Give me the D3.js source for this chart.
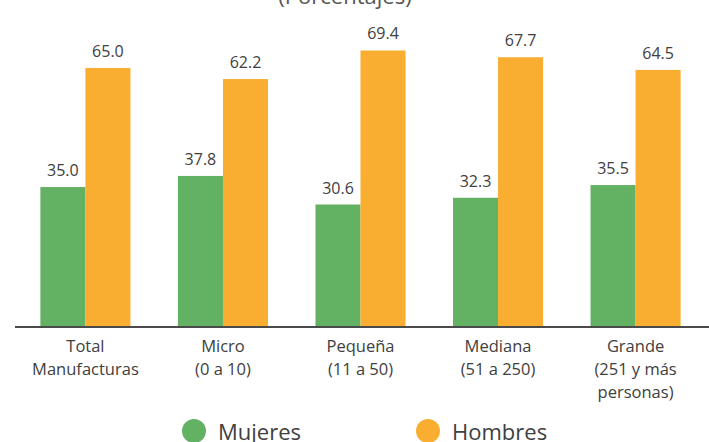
<!DOCTYPE html>
<html lang="es">
<head>
  <meta charset="UTF-8">
  <title>Mujeres y hombres por tamaño de empresa</title>
  <script src="https://d3js.org/d3.v7.min.js"></script>
  <style>
    body { margin: 0; background: #fff; }
    svg { display: block; font-family: "Open Sans", sans-serif; }
  </style>
</head>
<body>
  <svg id="chart" width="709" height="442"></svg>
  <script>
    // datos
    const categories = [
      ["Total", "Manufacturas"],
      ["Micro", "(0 a 10)"],
      ["Pequeña", "(11 a 50)"],
      ["Mediana", "(51 a 250)"],
      ["Grande", "(251 y más", "personas)"]
    ];
    const mujeres = [35.0, 37.8, 30.6, 32.3, 35.5];
    const hombres = [65.0, 62.2, 69.4, 67.7, 64.5];
    const seriesNames = ["Mujeres", "Hombres"];
    const colors = ["#63b163", "#f9ae31"];

    const svg = d3.select("#chart");
    const baseY = 326;

    const x0 = d3.scaleBand()
      .domain(d3.range(categories.length))
      .range([17, 704])
      .paddingInner(0.345)
      .paddingOuter(0.17);
    const x1 = d3.scaleBand()
      .domain([0, 1])
      .range([0, x0.bandwidth()]);
    const y = d3.scaleLinear().domain([0, 80]).range([baseY, baseY - 80 * 3.97]);

    // título (recortado arriba)
    svg.append("text")
      .attr("x", 345).attr("y", 4)
      .attr("text-anchor", "middle")
      .attr("fill", "#555")
      .style("font-size", "22px")
      .text("(Porcentajes)");

    const data = categories.map((c, i) => [mujeres[i], hombres[i]]);

    const groups = svg.append("g").selectAll("g")
      .data(data)
      .join("g")
      .attr("transform", (d, i) => `translate(${x0(i)},0)`);

    groups.selectAll("rect")
      .data(d => d)
      .join("rect")
      .attr("x", (d, j) => x1(j))
      .attr("width", x1.bandwidth())
      .attr("y", d => y(d))
      .attr("height", d => y(0) - y(d))
      .attr("fill", (d, j) => colors[j]);

    groups.selectAll("text.val")
      .data(d => d)
      .join("text")
      .attr("class", "val")
      .attr("x", (d, j) => x1(j) + x1.bandwidth() / 2)
      .attr("y", d => y(d) - 11)
      .attr("text-anchor", "middle")
      .attr("fill", "#404040")
      .style("font-size", "16px")
      .text(d => d.toFixed(1));

    // eje
    svg.append("line")
      .attr("x1", 15).attr("x2", 709)
      .attr("y1", baseY + 1).attr("y2", baseY + 1)
      .attr("stroke", "#4a4a4a")
      .attr("stroke-width", 2);

    // etiquetas de categoría
    const labels = svg.append("g").selectAll("text")
      .data(categories)
      .join("text")
      .attr("text-anchor", "middle")
      .attr("fill", "#404040")
      .style("font-size", "16.5px")
      .attr("x", (d, i) => x0(i) + x0.bandwidth() / 2)
      .attr("y", 352);
    labels.selectAll("tspan")
      .data(d => d)
      .join("tspan")
      .attr("x", function () { return this.parentNode.getAttribute("x"); })
      .attr("dy", (d, k) => k === 0 ? 0 : 23)
      .text(d => d);

    // leyenda
    const legendX = [194, 428];
    const legend = svg.append("g").selectAll("g")
      .data(seriesNames)
      .join("g")
      .attr("transform", (d, i) => `translate(${legendX[i]},431)`);
    legend.append("circle")
      .attr("r", 12)
      .attr("fill", (d, i) => colors[i]);
    legend.append("text")
      .attr("x", 24).attr("y", 9)
      .attr("fill", "#404040")
      .style("font-size", "22px")
      .text(d => d);
  </script>
</body>
</html>
